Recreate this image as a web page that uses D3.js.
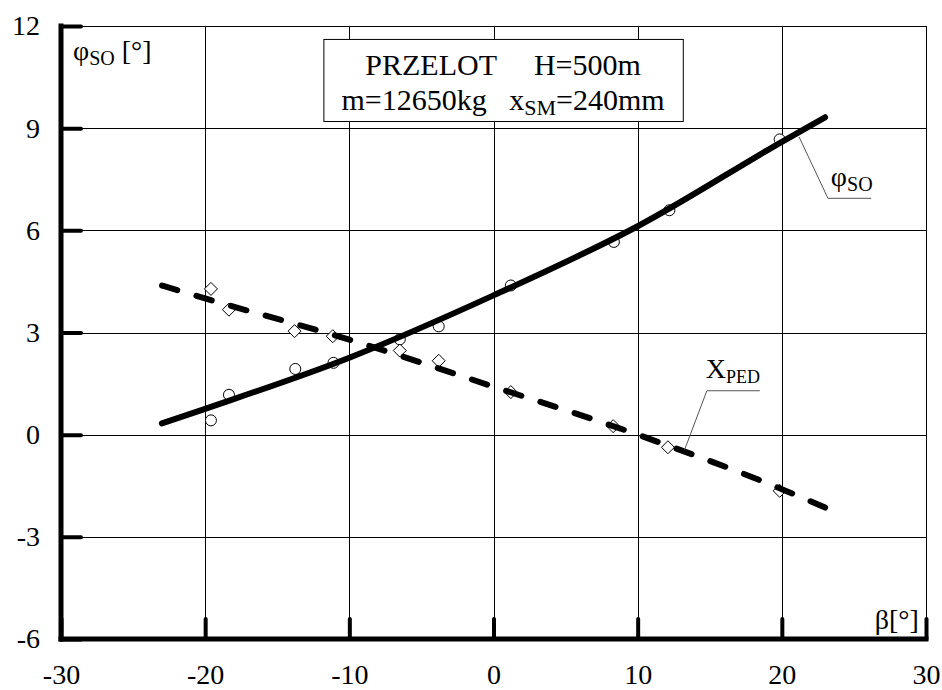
<!DOCTYPE html>
<html lang="pl">
  <head>
    <meta charset="UTF-8" />
    <title>PRZELOT H=500m</title>
    <style>
      body { margin: 0; background: #fff; }
      svg, svg text { font-family: "Liberation Serif", "Times New Roman", "DejaVu Serif", serif !important; }
      text { fill: #000; }
    </style>
  </head>
  <body>
    <svg width="942" height="690"></svg>
    <script src="https://d3js.org/d3.v7.min.js"></script>
    <script>
      // measured points (circles = phi_SO, diamonds = X_PED)
      var betaPhi = [-19.6, -18.35, -13.75, -11.1, -6.5, -3.8, 1.2, 8.35, 12.2, 19.85];
      var phiSO = [0.42, 1.17, 1.93, 2.11, 2.8, 3.18, 4.38, 5.66, 6.59, 8.67];
      var betaPed = [-19.6, -18.35, -13.8, -11.15, -6.5, -3.8, 1.2, 8.3, 12.1, 19.85];
      var xPed = [4.28, 3.67, 3.04, 2.89, 2.47, 2.17, 1.25, 0.25, -0.37, -1.65];

      // fitted curves
      var betaFit = [-23, -20, -10, 0, 10, 20, 23];
      var phiFit = [0.33, 0.76, 2.26, 4.09, 6.12, 8.6, 9.32];
      var pedFit = [4.38, 4.0, 2.79, 1.41, 0, -1.6, -2.14];

      var xTicks = [-30, -20, -10, 0, 10, 20, 30];
      var yTicks = [-6, -3, 0, 3, 6, 9, 12];

      var serif = "'Liberation Serif', 'Times New Roman', 'DejaVu Serif', serif";
      var svg = d3.select("svg").attr("font-family", serif);
      var x = d3.scaleLinear().domain([-30, 30]).range([61, 926]);
      var y = d3.scaleLinear().domain([-6, 12]).range([639, 26]);

      // grid
      var grid = svg.append("g").attr("stroke", "#000").attr("stroke-width", 1);
      grid.selectAll(".gx").data(xTicks).enter().append("line")
        .attr("x1", function (d) { return Math.round(x(d)) + 0.5; })
        .attr("x2", function (d) { return Math.round(x(d)) + 0.5; })
        .attr("y1", y(12)).attr("y2", y(-6));
      grid.selectAll(".gy").data(yTicks).enter().append("line")
        .attr("y1", function (d) { return Math.round(y(d)) + 0.5; })
        .attr("y2", function (d) { return Math.round(y(d)) + 0.5; })
        .attr("x1", x(-30)).attr("x2", x(30));

      // title box
      var bx0 = x(-11.8), bx1 = x(13.13), by0 = y(11.62), by1 = y(9.21);
      svg.append("rect")
        .attr("x", bx0 + 0.5).attr("y", by0 + 0.5)
        .attr("width", bx1 - bx0).attr("height", by1 - by0)
        .attr("fill", "#fff").attr("stroke", "#000").attr("stroke-width", 1);
      var cx = (bx0 + bx1) / 2;
      svg.append("text").attr("x", cx).attr("y", 75)
        .attr("text-anchor", "middle").attr("font-size", 30)
        .style("white-space", "pre")
        .text("PRZELOT     H=500m");
      var t2 = svg.append("text").attr("x", cx).attr("y", 110)
        .attr("text-anchor", "middle").attr("font-size", 30)
        .style("white-space", "pre");
      t2.append("tspan").text("m=12650kg   x");
      t2.append("tspan").attr("font-size", 22).attr("dy", 5).text("SM");
      t2.append("tspan").attr("dy", -5).text("=240mm");

      // markers
      var pts = svg.append("g").attr("fill", "#fff").attr("stroke", "#000").attr("stroke-width", 1);
      pts.selectAll("circle").data(d3.zip(betaPhi, phiSO)).enter().append("circle")
        .attr("cx", function (d) { return x(d[0]); })
        .attr("cy", function (d) { return y(d[1]); })
        .attr("r", 5.5);
      pts.selectAll("path").data(d3.zip(betaPed, xPed)).enter().append("path")
        .attr("transform", function (d) { return "translate(" + x(d[0]) + "," + y(d[1]) + ")"; })
        .attr("d", "M0,-6.5L6.5,0L0,6.5L-6.5,0Z");

      // curves
      var line = d3.line()
        .x(function (d) { return x(d[0]); })
        .y(function (d) { return y(d[1]); })
        .curve(d3.curveMonotoneX);
      svg.append("path").datum(d3.zip(betaFit, phiFit))
        .attr("fill", "none").attr("stroke", "#000").attr("stroke-width", 6)
        .attr("stroke-linecap", "round").attr("d", line);
      svg.append("path").datum(d3.zip(betaFit, pedFit))
        .attr("fill", "none").attr("stroke", "#000").attr("stroke-width", 6)
        .attr("stroke-linecap", "round").attr("stroke-dasharray", "16,20")
        .attr("d", line);

      // axes
      var gx = svg.append("g").attr("transform", "translate(0," + y(-6) + ")")
        .call(d3.axisBottom(x).tickValues(xTicks).tickSize(-20).tickPadding(25)
          .tickFormat(d3.format("d")));
      var gy = svg.append("g").attr("transform", "translate(" + x(-30) + ",0)")
        .call(d3.axisLeft(y).tickValues(yTicks).tickSize(-20).tickPadding(21)
          .tickFormat(d3.format("d")));
      [gx, gy].forEach(function (g) {
        g.attr("font-family", serif).attr("font-size", 28);
        g.select(".domain").attr("stroke", "#000").attr("stroke-width", 5)
          .attr("stroke-linecap", "square");
        g.selectAll(".tick line").attr("stroke", "#000").attr("stroke-width", 4)
          .attr("stroke-linecap", "round");
        g.selectAll(".tick text").attr("fill", "#000")
          .text(function (d) { return d < 0 ? "-" + Math.abs(d) : d; });
      });
      gx.select(".domain").attr("d", "M" + x(-30) + ",0H" + x(30));
      gy.select(".domain").attr("d", "M0," + y(-6) + "V" + y(12));

      // axis titles
      var yl = svg.append("text").attr("x", x(-29.17)).attr("y", y(11.0)).attr("font-size", 28);
      yl.append("tspan").text("φ");
      yl.append("tspan").attr("font-size", 20).attr("dy", 5).text("SO");
      yl.append("tspan").attr("dy", -5).text(" [°]");
      svg.append("text").attr("x", x(29.5)).attr("y", y(-5.7))
        .attr("text-anchor", "end").attr("font-size", 28).text("β[°]");

      // curve labels with leaders
      var lab = svg.append("g").attr("stroke", "#555").attr("stroke-width", 1).attr("fill", "none");
      lab.append("path").attr("d",
        "M" + x(21.2) + "," + y(8.74) + "L" + x(23.2) + "," + y(6.94) + "H" + x(26.2));
      lab.append("path").attr("d",
        "M" + x(13.26) + "," + y(-0.44) + "L" + x(14.8) + "," + y(1.29) + "H" + x(18.47));
      var l1 = svg.append("text").attr("x", x(23.4)).attr("y", y(7.29)).attr("font-size", 28);
      l1.append("tspan").text("φ");
      l1.append("tspan").attr("font-size", 20).attr("dy", 5).text("SO");
      var l2 = svg.append("text").attr("x", x(14.72)).attr("y", y(1.65)).attr("font-size", 28);
      l2.append("tspan").text("X");
      l2.append("tspan").attr("font-size", 18).attr("dy", 5).text("PED");
    </script>
  </body>
</html>
